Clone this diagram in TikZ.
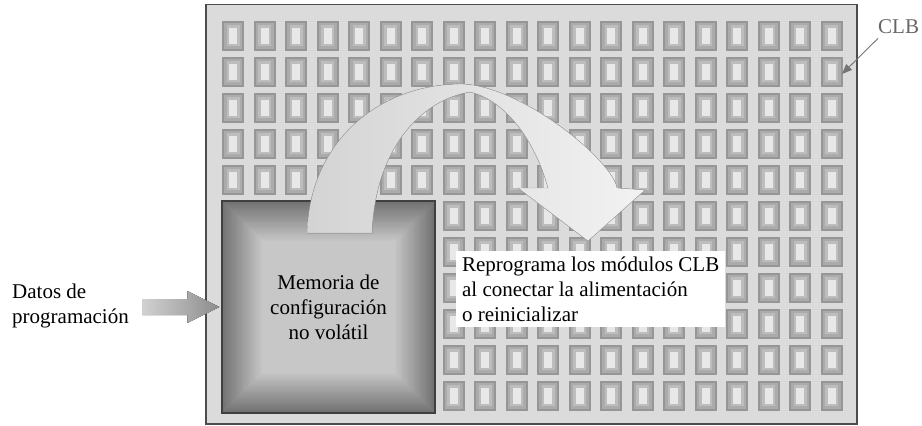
\documentclass[tikz,border=0pt]{standalone}
\usepackage{fontspec}
\setmainfont{Liberation Serif}
\usetikzlibrary{calc, arrows.meta}

\begin{document}
\begin{tikzpicture}[
    x=1pt, y=-1pt,
    txt/.style={font=\fontsize{21}{25}\selectfont, inner sep=0pt, align=#1},
    txt/.default=center,
    frame/.style={draw=black!70, line width=1.5pt, fill=black!14},
    membox/.style={draw=black!75, line width=1.2pt, minimum width=213pt, minimum height=212pt,
        path picture={
            \foreach \k in {0,...,41} {
                \pgfmathtruncatemacro\p{56-34*\k/41}
                \fill[black!\p] ([shift={(\k,\k)}]path picture bounding box.north west)
                    rectangle ([shift={(-\k,-\k)}]path picture bounding box.south east);
            }
        }},
    bigarrow/.style={left color=black!17, right color=black!5, draw=black!35, line width=0.4pt},
    ptr/.style={-{Triangle[length=10pt,width=8pt]}, black!55, line width=0.9pt},
]
\useasboundingbox (0,0) rectangle (922,426);

% --- FPGA frame and CLB array ---
\draw[frame] (206,4.5) rectangle (857,424);
\foreach \i in {0,...,19}
    \foreach \j in {0,...,10} {
        \pgfmathsetmacro\cx{222+31.5*\i}
        \pgfmathsetmacro\cy{20.5+36*\j}
        \fill[black!41] (\cx,\cy) rectangle ++(22,30);
        \fill[black!33] (\cx+2,\cy+2) rectangle ++(18,26);
        \fill[black!26] (\cx+4.5,\cy+4.5) rectangle ++(13,21);
        \fill[black!9] (\cx+7,\cy+7) rectangle ++(8,16);
    }

% --- Configuration memory ---
\node[membox, txt] (mem) at (328.5,307) {Memoria de\\configuración\\no volátil};

% --- Reprogramming arrow ---
\fill[bigarrow] (307,233) .. controls (310,140) and (380,84) .. (462,84)
    .. controls (522,86) and (612,160) .. (617,188)
    -- (645,190) -- (588,241) -- (518,188) -- (548,188)
    .. controls (535,140) and (505,100) .. (470,92)
    .. controls (420,100) and (375,150) .. (372,233) -- cycle;
\node[txt=left, fill=white, anchor=north west, inner xsep=5pt, minimum width=269pt,
    minimum height=76pt] (note) at (456,251)
    {Reprograma los módulos CLB\\al conectar la alimentación\\o reinicializar};

% --- Programming data input ---
\node[txt=left, anchor=west] (datos) at (12,306) {Datos de\\programación};
\coordinate (tip) at ([xshift=-2pt]mem.west);
\fill[left color=black!18, right color=black!45] (tip) -- ++(-32,-16) -- ++(0,8)
    -- ++(-45,0) -- ++(0,16) -- ++(45,0) -- ++(0,8) -- cycle;

% --- CLB label ---
\node[txt, text=black!60, anchor=base west] (clb) at (878,33) {CLB};
\coordinate (clbcell) at (842,74);
\draw[ptr] ([shift={(0,5)}]clb.south west) -- (clbcell);

\end{tikzpicture}
\end{document}
